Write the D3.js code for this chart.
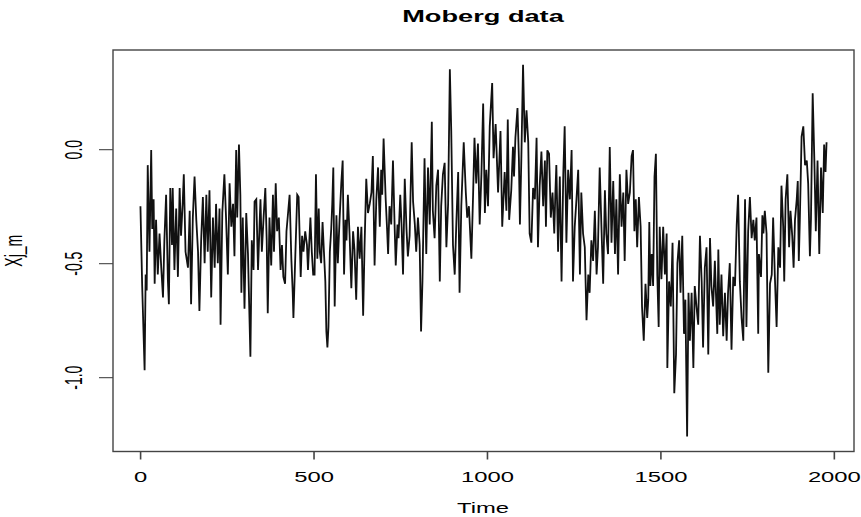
<!DOCTYPE html>
<html><head><meta charset="utf-8">
<script src="https://cdn.jsdelivr.net/npm/d3@7"></script>
<style>body{margin:0;background:#fff}text{font-family:"Liberation Sans",Arial,Helvetica,sans-serif;fill:#000}</style>
</head><body><svg id="c" width="861" height="517"></svg>
<script>
const years=[1,3,6,13,16,19,22,27,32,35,39,42,46,51,56,61,66,70,75,80,83,87,92,94,99,104,109,114,118,123,126,131,138,143,147,152,157,162,167,171,176,181,186,191,195,200,205,210,215,219,224,229,232,237,243,248,253,258,263,268,272,277,280,285,289,292,296,301,306,311,318,322,327,330,
335,340,344,347,351,356,361,365,368,373,378,383,386,391,395,400,405,409,413,418,422,426,431,436,440,442,447,453,457,463,467,471,476,481,484,491,495,499,503,507,511,515,518,522,526,530,534,537,540,543,547,551,554,557,561,566,570,575,580,584,588,592,595,599,604,609,614,618,623,628,633,638,643,647,652,657,662,667,671,676,681,686,691,695,
698,702,708,712,715,719,724,729,734,737,742,745,750,754,758,763,768,772,777,783,787,792,796,801,806,810,814,818,820,825,830,835,841,844,849,854,859,864,868,873,878,883,888,893,897,902,907,912,917,921,926,933,939,943,948,955,960,964,969,974,979,984,989,994,998,1003,1008,1015,1019,1025,1032,1039,1044,1051,1056,1060,1064,
1070,1075,1078,1082,1088,1092,1095,1099,1104,1109,1114,1119,1123,1128,1133,1138,1143,1147,1152,1157,1162,1167,1170,1174,1179,1184,1189,1194,1197,1200,1205,1210,1215,1220,1224,1229,1234,1239,1244,1248,1253,1258,1263,1268,1272,1277,1282,1287,1292,1296,1301,1306,1311,1316,1320,1325,1330,1335,1340,1344,1349,1354,1359,1364,1369,1373,1378,1383,1388,1393,1397,1402,1407,1412,1417,1421,
1425,1429,1433,1438,1443,1447,1452,1457,1462,1465,1468,1471,1475,1479,1483,1487,1491,1495,1498,1503,1508,1513,1518,1520,1525,1530,1535,1540,1545,1549,1554,1558,1563,1568,1572,1577,1581,1585,1590,1595,1599,1604,1609,1614,1619,1623,1628,1633,1638,1643,1647,1652,1657,1664,1667,1671,1676,1681,1686,1691,1695,1700,1705,1710,1715,1720,1724,1729,1734,1739,1744,1748,1753,1758,1763,1768,1772,1777,1782,
1784,1790,1794,1797,1801,1806,1811,1816,1821,1825,1830,1835,1840,1845,1849,1854,1857,1861,1866,1871,1875,1880,1884,1888,1893,1896,1899,1902,1907,1912,1917,1922,1926,1931,1934,1939,1944,1948,1953,1958,1963,1968,1972,1976,1979];
const values=[-0.25,-0.39,-0.6,-0.97,-0.55,-0.62,-0.07,-0.45,-0.004,-0.35,-0.22,-0.59,-0.31,-0.55,-0.37,-0.52,-0.65,-0.4,-0.2,-0.57,-0.68,-0.17,-0.42,-0.17,-0.53,-0.26,-0.56,-0.17,-0.38,-0.23,-0.11,-0.45,-0.52,-0.27,-0.68,-0.3,-0.12,-0.31,-0.45,-0.71,-0.4,-0.21,-0.5,-0.2,-0.45,-0.18,-0.65,-0.3,-0.52,-0.24,-0.5,-0.26,-0.77,-0.28,-0.11,-0.31,-0.55,-0.15,-0.34,-0.24,-0.47,-0.004,-0.3,0.02,-0.2,-0.63,-0.3,-0.7,-0.28,-0.46,-0.91,-0.4,-0.53,-0.23,
-0.22,-0.53,-0.35,-0.22,-0.45,-0.3,-0.17,-0.4,-0.72,-0.3,-0.51,-0.2,-0.45,-0.15,-0.36,-0.3,-0.53,-0.42,-0.56,-0.59,-0.36,-0.29,-0.2,-0.48,-0.63,-0.74,-0.49,-0.2,-0.21,-0.56,-0.38,-0.45,-0.36,-0.42,-0.53,-0.3,-0.45,-0.55,-0.55,-0.11,-0.48,-0.26,-0.45,-0.5,-0.32,-0.45,-0.58,-0.8,-0.87,-0.78,-0.45,-0.35,-0.24,-0.08,-0.69,-0.29,-0.5,-0.31,-0.15,-0.05,-0.55,-0.31,-0.4,-0.2,-0.38,-0.61,-0.36,-0.44,-0.66,-0.34,-0.48,-0.34,-0.73,-0.43,-0.13,-0.28,-0.24,-0.19,-0.03,-0.51,-0.22,-0.08,-0.34,-0.09,
-0.2,0.047,-0.22,-0.35,-0.46,-0.25,-0.33,-0.05,-0.35,-0.51,-0.33,-0.39,-0.2,-0.34,-0.55,-0.13,-0.35,-0.47,-0.38,0.03,-0.23,-0.33,-0.45,-0.3,-0.42,-0.8,-0.58,-0.22,-0.04,-0.46,-0.08,-0.33,0.12,-0.27,-0.39,-0.16,-0.09,-0.58,-0.25,-0.11,-0.06,-0.43,-0.24,0.35,0.08,-0.42,-0.55,-0.31,-0.1,-0.63,-0.25,0.03,-0.19,-0.3,-0.25,-0.48,-0.2,0.05,-0.15,0.025,-0.33,-0.11,0.2,-0.28,-0.09,-0.25,0.1,0.29,-0.04,0.11,-0.19,0.08,-0.34,-0.1,-0.27,0.13,-0.31,
-0.18,0.01,-0.12,0.05,0.18,-0.04,-0.33,-0.05,0.37,0.03,0.17,0.03,-0.37,-0.41,-0.17,-0.22,0.05,-0.43,-0.16,-0.01,-0.25,-0.05,-0.34,-0.005,-0.02,-0.3,-0.19,-0.37,-0.2,-0.07,-0.45,-0.12,-0.58,-0.11,0.1,-0.41,-0.09,-0.22,-0.004,-0.58,-0.34,-0.22,-0.09,-0.55,-0.19,-0.37,-0.43,-0.75,-0.55,-0.63,-0.4,-0.49,-0.27,-0.55,-0.43,-0.08,-0.34,-0.59,-0.18,-0.37,-0.46,0.01,-0.41,-0.14,-0.46,-0.22,-0.55,-0.11,-0.34,-0.19,-0.49,-0.09,-0.24,-0.19,-0.03,-0.004,
-0.36,-0.22,-0.43,-0.21,-0.34,-0.69,-0.84,-0.59,-0.74,-0.66,-0.32,-0.6,-0.46,-0.6,-0.12,-0.02,-0.55,-0.78,-0.34,-0.57,-0.34,-0.55,-0.37,-0.96,-0.58,-0.69,-0.41,-1.07,-0.9,-0.5,-0.4,-0.63,-0.38,-0.81,-0.66,-1.26,-0.63,-0.84,-0.63,-0.96,-0.6,-0.69,-0.77,-0.38,-0.58,-0.87,-0.52,-0.43,-0.9,-0.39,-0.6,-0.69,-0.49,-0.81,-0.44,-0.77,-0.55,-0.82,-0.63,-0.84,-0.63,-0.5,-0.88,-0.56,-0.6,-0.33,-0.2,-0.58,-0.74,-0.84,-0.22,-0.78,-0.36,-0.21,-0.39,-0.31,-0.4,-0.3,-0.81,
-0.46,-0.56,-0.29,-0.37,-0.27,-0.37,-0.98,-0.59,-0.55,-0.3,-0.56,-0.78,-0.43,-0.52,-0.16,-0.34,-0.58,-0.22,-0.11,-0.43,-0.27,-0.38,-0.52,-0.31,-0.22,-0.14,-0.49,-0.31,0.055,0.1,-0.07,-0.05,-0.15,-0.47,-0.31,0.245,-0.06,-0.36,-0.05,-0.46,-0.08,-0.28,0.02,-0.1,0.03];
const xTicks=[0,500,1000,1500,2000];
const yTicks=[-1.0,-0.5,0.0];
const yTickLabels=["-1.0","-0.5","0.0"];
const titleText="Moberg data", xLabel="Time", yLabel="Xj_m";

const SX=1.7;
const svg=d3.select("#c");
const L=113,R=854,T=50,B=451.5;
const x=d3.scaleLinear().domain([-78.12,2058.12]).range([L,R]);
const y=d3.scaleLinear().domain([-1.326,0.435]).range([B,T]);

svg.append("path").datum(d3.zip(years,values))
  .attr("d",d3.line().x(d=>x(d[0])).y(d=>y(d[1])))
  .attr("fill","none").attr("stroke","#111").attr("stroke-width",1.8);

svg.append("rect").attr("x",L).attr("y",T).attr("width",R-L).attr("height",B-T)
  .attr("fill","none").attr("stroke","#444").attr("stroke-width",1.4);

const gx=svg.append("g").attr("transform",`translate(0,${B})`)
  .call(d3.axisBottom(x).tickValues(xTicks).tickSize(8).tickFormat(d3.format("d")));
gx.select(".domain").remove();
gx.selectAll("line").attr("stroke","#444").attr("stroke-width",1.6);
gx.selectAll("text").attr("y",30.5).attr("dy",null).attr("font-size",14)
  .attr("transform",`scale(${SX},1)`).attr("fill","#000");

const gy=svg.append("g").attr("transform",`translate(${L},0)`)
  .call(d3.axisLeft(y).tickValues(yTicks).tickSize(14).tickFormat((d,i)=>yTickLabels[i]));
gy.select(".domain").remove();
gy.selectAll("line").attr("stroke","#444").attr("stroke-width",1.1);
gy.selectAll("text").attr("x",null).attr("dy",null).attr("font-size",14)
  .attr("text-anchor","middle")
  .attr("transform",`translate(-31,0) scale(${SX},1) rotate(-90)`).attr("fill","#000");

svg.append("text").attr("transform",`translate(483,22) scale(${SX},1)`)
  .attr("text-anchor","middle").attr("font-size",16).attr("font-weight","bold").text(titleText);
svg.append("text").attr("transform",`translate(483,513) scale(${SX},1)`)
  .attr("text-anchor","middle").attr("font-size",14).text(xLabel);
svg.append("text").attr("transform",`translate(22,${(T+B)/2}) scale(${SX},1) rotate(-90)`)
  .attr("text-anchor","middle").attr("font-size",14).text(yLabel);
</script></body></html>
